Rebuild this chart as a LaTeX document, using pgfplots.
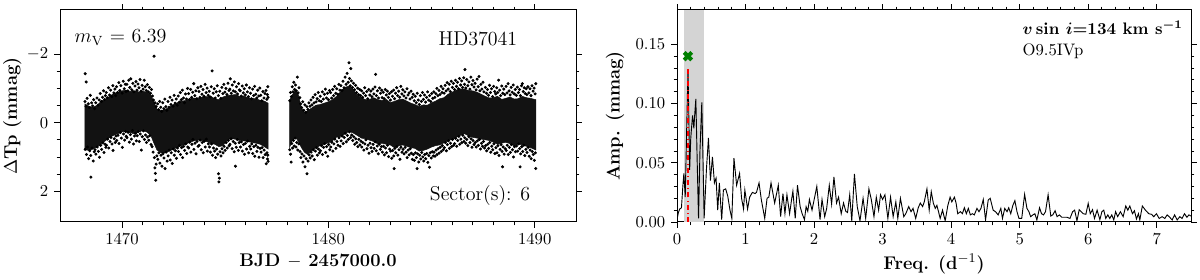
\documentclass[border=0pt]{standalone}
\usepackage{pgfplots}
\pgfplotsset{compat=1.18}
\begin{document}
\begin{tikzpicture}
\pgfplotsset{
  myax/.style={
    scale only axis, anchor=south west,
    height=127.2pt,
    tick align=outside, tick pos=both,
    major tick length=3.5pt, minor tick length=2pt,
    every tick/.style={black, line width=0.5pt},
    axis line style={line width=0.6pt},
    label style={font=\fontsize{11}{13}\selectfont},
    xlabel style={yshift=1pt},
    clip=true,
  }
}
\useasboundingbox (0,0) rectangle (720pt,168pt);
% ---------------- left panel: light curve ----------------
\begin{axis}[myax,
  at={(36pt,34.8pt)}, width=309.6pt,
  xmin=1467, xmax=1492, ymin=-3.29, ymax=2.90, y dir=reverse,
  xtick={1470,1480,1490}, minor x tick num=9,
  ytick={-2,0,2}, minor y tick num=3,
  xticklabel style={/pgf/number format/.cd,1000 sep={}},
  xlabel={\textbf{BJD $-$ 2457000.0}},
  ylabel={\textbf{$\Delta$Tp (mmag)}}, ylabel shift=-3.5pt,
]
% dense core of the light curve (segment 1)
\addplot[fill=black!93, draw=black!93, line width=0.3pt] coordinates {
(1468.20,-0.55)(1468.40,-0.48)(1468.60,-0.45)(1468.80,-0.51)(1469.00,-0.63)(1469.20,-0.68)(1469.40,-0.77)(1469.60,-0.85)
(1469.80,-0.89)(1470.00,-0.93)(1470.20,-0.95)(1470.40,-0.91)(1470.60,-0.93)(1470.80,-0.90)(1471.00,-0.92)(1471.20,-0.89)
(1471.40,-0.81)(1471.55,-0.60)(1471.70,-0.40)(1471.90,-0.35)(1472.10,-0.39)(1472.30,-0.45)(1472.50,-0.53)(1472.70,-0.59)
(1472.90,-0.63)(1473.10,-0.65)(1473.30,-0.69)(1473.50,-0.72)(1473.70,-0.70)(1473.90,-0.75)(1474.10,-0.76)(1474.30,-0.77)
(1474.50,-0.70)(1474.70,-0.67)(1474.90,-0.75)(1475.10,-0.79)(1475.30,-0.81)(1475.50,-0.82)(1475.70,-0.77)(1475.90,-0.78)
(1476.10,-0.73)(1476.30,-0.71)(1476.50,-0.70)(1476.70,-0.65)(1476.90,-0.63)(1477.08,-0.57)
(1477.08,0.77)(1476.90,0.70)(1476.70,0.63)(1476.50,0.60)(1476.30,0.58)(1476.10,0.55)(1475.90,0.53)(1475.70,0.52)
(1475.50,0.48)(1475.30,0.47)(1475.10,0.50)(1474.90,0.67)(1474.70,0.70)(1474.50,0.63)(1474.30,0.60)(1474.10,0.55)
(1473.90,0.52)(1473.70,0.51)(1473.50,0.53)(1473.30,0.57)(1473.10,0.63)(1472.90,0.67)(1472.70,0.72)(1472.50,0.77)
(1472.30,0.83)(1472.10,0.88)(1471.90,0.88)(1471.70,0.80)(1471.55,0.60)(1471.40,0.37)(1471.20,0.27)(1471.00,0.23)
(1470.80,0.28)(1470.60,0.33)(1470.40,0.29)(1470.20,0.25)(1470.00,0.27)(1469.80,0.32)(1469.60,0.37)(1469.40,0.43)
(1469.20,0.53)(1469.00,0.61)(1468.80,0.71)(1468.60,0.77)(1468.40,0.81)(1468.20,0.79)
} -- cycle;
% dense core (segment 2)
\addplot[fill=black!93, draw=black!93, line width=0.3pt] coordinates {
(1478.12,-0.65)(1478.25,-0.81)(1478.40,-0.93)(1478.55,-0.81)(1478.70,-0.43)(1478.85,-0.30)(1479.00,-0.35)(1479.20,-0.43)
(1479.40,-0.51)(1479.60,-0.53)(1479.80,-0.57)(1480.00,-0.61)(1480.20,-0.67)(1480.40,-0.77)(1480.60,-0.91)(1480.80,-1.03)
(1481.00,-1.07)(1481.20,-0.97)(1481.40,-0.80)(1481.60,-0.73)(1481.80,-0.67)(1482.00,-0.68)(1482.20,-0.73)(1482.40,-0.67)
(1482.60,-0.65)(1482.80,-0.68)(1483.00,-0.59)(1483.20,-0.62)(1483.40,-0.67)(1483.60,-0.69)(1483.80,-0.63)(1484.00,-0.57)
(1484.20,-0.53)(1484.40,-0.47)(1484.60,-0.52)(1484.80,-0.51)(1485.00,-0.58)(1485.20,-0.63)(1485.40,-0.70)(1485.60,-0.73)
(1485.80,-0.83)(1486.00,-0.89)(1486.20,-0.95)(1486.40,-0.99)(1486.60,-0.98)(1486.80,-0.94)(1487.00,-0.93)(1487.20,-0.89)
(1487.40,-0.83)(1487.60,-0.77)(1487.80,-0.72)(1488.00,-0.73)(1488.20,-0.77)(1488.40,-0.68)(1488.60,-0.71)(1488.80,-0.75)
(1489.00,-0.69)(1489.20,-0.70)(1489.40,-0.77)(1489.60,-0.73)(1489.80,-0.71)(1490.06,-0.67)
(1490.06,0.80)(1489.80,0.73)(1489.60,0.69)(1489.40,0.65)(1489.20,0.62)(1489.00,0.68)(1488.80,0.61)(1488.60,0.57)
(1488.40,0.60)(1488.20,0.63)(1488.00,0.57)(1487.80,0.52)(1487.60,0.50)(1487.40,0.48)(1487.20,0.45)(1487.00,0.43)
(1486.80,0.39)(1486.60,0.32)(1486.40,0.37)(1486.20,0.43)(1486.00,0.48)(1485.80,0.53)(1485.60,0.59)(1485.40,0.65)
(1485.20,0.67)(1485.00,0.71)(1484.80,0.77)(1484.60,0.81)(1484.40,0.83)(1484.20,0.75)(1484.00,0.73)(1483.80,0.69)
(1483.60,0.65)(1483.40,0.68)(1483.20,0.73)(1483.00,0.65)(1482.80,0.63)(1482.60,0.60)(1482.40,0.62)(1482.20,0.55)
(1482.00,0.51)(1481.80,0.47)(1481.60,0.45)(1481.40,0.37)(1481.20,0.30)(1481.00,0.25)(1480.80,0.33)(1480.60,0.40)
(1480.40,0.42)(1480.20,0.53)(1480.00,0.59)(1479.80,0.63)(1479.60,0.67)(1479.40,0.73)(1479.20,0.81)(1479.00,0.93)
(1478.85,0.87)(1478.70,0.73)(1478.55,0.55)(1478.40,0.41)(1478.25,0.53)(1478.12,0.73)
} -- cycle;
% individual measurements on the fringes of the band
\addplot[only marks, mark=*, mark size=0.7pt, black] coordinates {
(1468.22,-1.43)(1468.27,-1.19)(1468.50,1.59)
(1468.21,-0.62)(1468.26,-0.48)(1468.31,-0.71)(1468.37,-0.55)(1468.42,-0.44)(1468.47,-0.80)(1468.53,-0.58)(1468.58,-0.49)(1468.63,-0.67)(1468.68,-0.41)
(1468.22,0.78)(1468.28,0.93)(1468.33,0.71)(1468.39,1.05)(1468.44,0.82)(1468.49,0.96)(1468.55,0.74)(1468.61,1.12)(1468.66,0.85)(1468.70,0.79)
(1468.73,-0.58)(1468.79,-0.72)(1468.84,-0.51)(1468.90,-0.66)(1468.95,-0.85)(1469.01,-0.62)(1469.06,-0.74)(1469.11,-0.93)(1469.16,-0.68)(1469.20,-0.79)
(1468.74,0.92)(1468.80,0.71)(1468.86,0.84)(1468.91,1.01)(1468.97,0.66)(1469.02,0.78)(1469.08,0.59)(1469.13,0.87)(1469.18,0.63)(1469.22,0.72)
(1469.24,-0.88)(1469.29,-0.73)(1469.35,-1.02)(1469.40,-0.81)(1469.45,-0.95)(1469.51,-0.76)(1469.56,-1.08)(1469.61,-0.87)(1469.66,-0.98)(1469.70,-0.79)
(1469.25,0.66)(1469.31,0.48)(1469.36,0.74)(1469.42,0.55)(1469.47,0.43)(1469.52,0.62)(1469.57,0.81)(1469.63,0.47)(1469.68,0.58)(1469.71,0.39)
(1469.74,-1.05)(1469.79,-0.88)(1469.85,-1.17)(1469.90,-0.94)(1469.95,-1.08)(1470.01,-0.86)(1470.06,-1.21)(1470.11,-0.99)(1470.16,-1.12)(1470.20,-0.91)
(1469.75,0.52)(1469.81,0.37)(1469.86,0.61)(1469.92,0.29)(1469.97,0.45)(1470.02,0.72)(1470.08,0.33)(1470.13,0.51)(1470.18,0.26)(1470.21,0.40)
(1470.24,-1.12)(1470.29,-0.93)(1470.33,-1.24)(1470.38,-1.03)(1470.43,-1.28)(1470.48,-0.96)(1470.53,-1.15)(1470.58,-0.90)(1470.63,-1.07)(1470.68,-1.20)
(1470.25,0.44)(1470.30,0.28)(1470.36,0.57)(1470.41,0.35)(1470.46,0.48)(1470.51,0.23)(1470.56,0.62)(1470.61,0.39)(1470.66,0.31)(1470.70,0.53)
(1470.73,-0.95)(1470.78,-1.13)(1470.83,-1.02)(1470.88,-1.26)(1470.93,-0.92)(1470.98,-1.09)(1471.03,-0.98)(1471.08,-1.24)(1471.13,-1.05)(1471.18,-0.94)
(1470.74,0.38)(1470.79,0.26)(1470.84,0.55)(1470.89,0.33)(1470.94,0.80)(1470.99,0.41)(1471.04,0.24)(1471.09,0.49)(1471.14,0.36)(1471.19,0.58)
(1471.23,-1.11)(1471.28,-0.90)(1471.33,-1.03)(1471.38,-0.86)(1471.43,-0.97)(1471.48,-0.78)(1471.53,-0.66)(1471.56,-1.94)(1471.60,-0.58)(1471.66,-0.47)
(1471.24,0.42)(1471.30,0.51)(1471.35,0.38)(1471.41,0.64)(1471.46,0.70)(1471.51,0.86)(1471.57,1.02)(1471.60,1.32)(1471.62,1.48)(1471.64,1.68)(1471.66,1.21)(1471.69,0.97)
(1471.73,-0.55)(1471.78,-0.38)(1471.83,-0.62)(1471.88,-0.45)(1471.93,-0.33)(1471.98,-0.58)(1472.03,-0.41)(1472.08,-0.69)(1472.13,-0.47)(1472.18,-0.36)
(1471.74,1.07)(1471.79,0.88)(1471.84,1.18)(1471.89,0.95)(1471.94,1.27)(1471.99,0.91)(1472.04,1.03)(1472.09,1.34)(1472.14,0.86)(1472.19,1.12)
(1472.23,-0.62)(1472.28,-0.45)(1472.33,-0.74)(1472.38,-0.53)(1472.43,-0.66)(1472.48,-0.48)(1472.53,-0.80)(1472.58,-0.57)(1472.63,-0.69)(1472.68,-0.51)
(1472.24,0.97)(1472.29,0.80)(1472.34,1.09)(1472.39,0.88)(1472.44,1.19)(1472.49,0.77)(1472.54,0.95)(1472.59,0.82)(1472.64,1.04)(1472.69,0.74)
(1472.73,-0.78)(1472.78,-0.60)(1472.83,-0.88)(1472.88,-0.67)(1472.93,-0.95)(1472.98,-0.72)(1473.03,-0.58)(1473.08,-0.84)(1473.13,-0.69)(1473.18,-1.00)
(1472.74,0.84)(1472.79,0.66)(1472.84,0.93)(1472.89,0.73)(1472.94,1.02)(1472.99,0.69)(1473.04,0.81)(1473.09,0.62)(1473.14,0.90)(1473.19,0.71)
(1473.23,-0.85)(1473.28,-0.68)(1473.33,-0.97)(1473.38,-0.74)(1473.43,-0.89)(1473.48,-1.14)(1473.53,-0.79)(1473.58,-0.93)(1473.63,-0.70)(1473.68,-1.02)
(1473.24,0.74)(1473.29,0.57)(1473.34,0.86)(1473.39,0.63)(1473.44,0.49)(1473.49,0.78)(1473.54,0.60)(1473.59,0.91)(1473.64,0.55)(1473.69,0.69)
(1473.73,-0.91)(1473.78,-0.74)(1473.83,-1.06)(1473.88,-0.83)(1473.93,-0.97)(1473.98,-0.77)(1474.03,-1.12)(1474.08,-0.88)(1474.13,-1.01)(1474.18,-0.80)
(1473.74,0.66)(1473.79,0.51)(1473.84,0.79)(1473.89,0.58)(1473.94,0.88)(1473.99,0.54)(1474.04,0.71)(1474.09,0.48)(1474.14,0.83)(1474.19,0.62)
(1474.23,-0.92)(1474.28,-0.75)(1474.33,-1.05)(1474.37,-1.51)(1474.42,-0.86)(1474.47,-0.99)(1474.52,-0.72)(1474.57,-0.90)(1474.62,-1.08)(1474.67,-0.79)
(1474.24,0.71)(1474.29,0.86)(1474.34,0.62)(1474.39,0.95)(1474.44,0.74)(1474.49,0.83)(1474.54,1.02)(1474.59,0.77)(1474.64,0.92)(1474.68,1.49)(1474.70,1.73)(1474.72,1.62)
(1474.74,-0.92)(1474.79,-0.71)(1474.84,-1.03)(1474.89,-0.85)(1474.94,-1.12)(1474.99,-0.89)(1475.04,-1.00)(1475.09,-0.82)(1475.14,-1.15)(1475.19,-0.94)
(1474.75,0.85)(1474.80,0.97)(1474.85,0.76)(1474.90,0.88)(1474.95,0.69)(1475.00,0.81)(1475.05,0.58)(1475.10,0.74)(1475.15,0.52)(1475.20,0.67)
(1475.23,-0.98)(1475.25,-1.28)(1475.30,-0.86)(1475.35,-1.10)(1475.40,-0.93)(1475.45,-1.19)(1475.50,-0.90)(1475.55,-1.05)(1475.60,-0.84)(1475.65,-1.14)(1475.69,-0.96)
(1475.24,0.63)(1475.29,0.47)(1475.34,0.76)(1475.39,0.55)(1475.44,0.85)(1475.49,0.60)(1475.50,1.27)(1475.54,0.72)(1475.59,0.49)(1475.64,0.81)(1475.68,0.58)
(1475.73,-0.93)(1475.78,-0.78)(1475.83,-1.07)(1475.88,-0.87)(1475.93,-0.99)(1475.98,-0.81)(1476.03,-1.10)(1476.08,-0.90)(1476.13,-0.76)(1476.18,-1.02)
(1475.74,0.71)(1475.79,0.56)(1475.84,0.83)(1475.89,0.64)(1475.94,0.92)(1475.99,0.60)(1476.04,0.77)(1476.09,0.54)(1476.14,0.88)(1476.19,0.69)
(1476.23,-0.86)(1476.28,-0.70)(1476.33,-0.98)(1476.38,-0.79)(1476.43,-1.06)(1476.48,-0.83)(1476.53,-0.72)(1476.58,-0.95)(1476.63,-0.78)(1476.68,-1.01)
(1476.24,0.77)(1476.29,0.62)(1476.34,0.90)(1476.39,0.70)(1476.44,0.98)(1476.49,0.66)(1476.54,0.84)(1476.59,0.72)(1476.64,1.01)(1476.69,0.75)
(1476.73,-0.80)(1476.78,-0.64)(1476.83,-0.91)(1476.88,-0.72)(1476.93,-0.85)(1476.98,-0.94)(1477.02,-0.68)(1477.05,-0.82)(1477.07,-1.05)(1477.08,-0.74)
(1476.74,0.86)(1476.79,0.73)(1476.84,1.02)(1476.89,0.80)(1476.94,0.93)(1476.99,1.20)(1477.03,0.88)(1477.05,1.06)(1477.07,0.95)(1477.08,1.13)
(1478.13,-0.64)(1478.17,-0.88)(1478.21,-0.76)(1478.25,-1.05)(1478.29,-0.90)(1478.33,-1.18)(1478.37,-0.97)(1478.41,-1.10)(1478.45,-0.93)(1478.50,-1.33)(1478.54,-0.87)(1478.58,-1.02)
(1478.13,0.79)(1478.17,0.92)(1478.20,1.15)(1478.23,0.61)(1478.27,0.74)(1478.31,0.52)(1478.35,0.68)(1478.39,0.45)(1478.43,0.71)(1478.47,0.58)(1478.52,0.80)(1478.57,0.62)
(1478.62,-0.73)(1478.66,-0.55)(1478.71,-0.44)(1478.76,-0.61)(1478.81,-0.36)(1478.86,-0.52)(1478.91,-0.30)(1478.96,-0.47)(1479.01,-0.39)(1479.06,-0.58)
(1478.63,0.84)(1478.67,1.02)(1478.72,0.91)(1478.77,1.15)(1478.82,0.97)(1478.87,1.29)(1478.92,1.05)(1478.97,1.49)(1479.02,1.12)(1479.07,0.94)
(1479.11,-0.48)(1479.16,-0.66)(1479.21,-0.52)(1479.26,-0.74)(1479.31,-0.58)(1479.36,-0.82)(1479.41,-0.61)(1479.46,-0.70)(1479.51,-0.88)(1479.56,-0.64)
(1479.12,1.03)(1479.17,0.86)(1479.22,0.97)(1479.27,0.79)(1479.32,1.08)(1479.37,0.83)(1479.42,0.73)(1479.47,0.95)(1479.52,0.77)(1479.57,0.88)
(1479.61,-0.77)(1479.66,-0.62)(1479.71,-0.90)(1479.76,-0.69)(1479.81,-0.83)(1479.86,-0.98)(1479.91,-0.72)(1479.96,-0.86)(1480.01,-0.67)(1480.06,-0.94)
(1479.62,0.82)(1479.67,0.67)(1479.72,0.93)(1479.77,0.72)(1479.82,0.61)(1479.87,0.87)(1479.92,0.70)(1479.97,0.98)(1480.02,0.64)(1480.07,0.79)
(1480.11,-0.88)(1480.16,-0.72)(1480.21,-0.97)(1480.26,-0.79)(1480.31,-1.06)(1480.36,-0.86)(1480.41,-0.99)(1480.46,-0.83)(1480.51,-1.12)(1480.56,-0.95)
(1480.12,0.71)(1480.17,0.57)(1480.22,0.83)(1480.27,0.62)(1480.32,0.48)(1480.37,0.75)(1480.42,0.55)(1480.47,0.66)(1480.52,0.44)(1480.57,0.69)
(1480.61,-1.08)(1480.66,-0.94)(1480.71,-1.21)(1480.76,-1.02)(1480.81,-1.33)(1480.86,-1.12)(1480.91,-1.44)(1480.96,-1.18)(1481.00,-1.75)(1481.03,-1.29)(1481.06,-1.08)(1481.09,-1.58)
(1480.62,0.53)(1480.67,0.39)(1480.72,0.61)(1480.77,0.43)(1480.82,0.31)(1480.87,0.56)(1480.92,0.37)(1480.97,0.49)(1481.02,0.27)(1481.07,0.44)
(1481.12,-1.22)(1481.17,-1.03)(1481.22,-1.15)(1481.27,-0.96)(1481.32,-1.09)(1481.37,-0.88)(1481.42,-1.01)(1481.47,-0.82)(1481.52,-0.97)(1481.57,-0.79)
(1481.13,0.36)(1481.18,0.52)(1481.23,0.41)(1481.28,0.63)(1481.33,0.47)(1481.38,0.58)(1481.43,0.70)(1481.48,0.49)(1481.53,0.65)(1481.58,0.54)
(1481.61,-0.93)(1481.66,-0.74)(1481.71,-0.86)(1481.76,-1.02)(1481.81,-0.79)(1481.86,-0.91)(1481.91,-0.70)(1481.96,-0.97)(1482.01,-0.81)(1482.06,-0.92)
(1481.62,0.71)(1481.67,0.58)(1481.72,0.80)(1481.77,0.62)(1481.82,0.50)(1481.87,0.76)(1481.92,0.66)(1481.97,0.89)(1482.02,0.60)(1482.07,0.73)
(1482.11,-0.76)(1482.16,-0.98)(1482.21,-0.84)(1482.26,-1.04)(1482.29,-1.41)(1482.33,-0.79)(1482.38,-0.93)(1482.43,-0.72)(1482.48,-1.01)(1482.53,-0.86)(1482.58,-0.95)
(1482.12,0.84)(1482.17,0.63)(1482.22,0.75)(1482.27,0.56)(1482.32,0.82)(1482.37,0.68)(1482.42,0.91)(1482.47,0.63)(1482.52,0.78)(1482.57,0.70)
(1482.61,-0.73)(1482.66,-0.89)(1482.71,-0.70)(1482.76,-0.97)(1482.81,-0.81)(1482.86,-0.92)(1482.91,-0.74)(1482.96,-0.85)(1483.01,-0.66)(1483.06,-0.90)
(1482.62,0.86)(1482.67,0.69)(1482.72,0.94)(1482.77,0.74)(1482.82,0.88)(1482.87,0.66)(1482.92,0.99)(1482.97,0.77)(1483.02,0.83)(1483.07,1.04)
(1483.11,-0.77)(1483.16,-0.95)(1483.21,-0.70)(1483.26,-0.86)(1483.31,-1.02)(1483.36,-0.79)(1483.41,-0.92)(1483.46,-0.74)(1483.51,-1.06)(1483.56,-0.84)
(1483.12,0.81)(1483.17,0.97)(1483.19,1.34)(1483.22,0.75)(1483.27,0.88)(1483.32,0.70)(1483.37,0.95)(1483.42,0.79)(1483.47,1.07)(1483.52,0.72)(1483.57,0.86)
(1483.61,-0.96)(1483.66,-0.78)(1483.71,-0.90)(1483.76,-0.72)(1483.81,-0.99)(1483.86,-0.81)(1483.91,-0.87)(1483.96,-0.69)(1484.01,-0.92)(1484.06,-0.74)
(1483.62,0.78)(1483.67,0.91)(1483.72,0.72)(1483.77,0.86)(1483.82,1.02)(1483.87,0.80)(1483.92,0.94)(1483.97,0.76)(1484.02,0.89)(1484.07,1.07)
(1484.11,-0.83)(1484.16,-0.64)(1484.21,-0.77)(1484.26,-0.58)(1484.31,-0.86)(1484.36,-0.66)(1484.41,-0.53)(1484.46,-0.79)(1484.51,-0.62)(1484.56,-0.88)
(1484.12,0.93)(1484.17,1.10)(1484.22,0.88)(1484.27,1.02)(1484.30,1.34)(1484.33,0.91)(1484.38,1.15)(1484.43,0.95)(1484.48,1.06)(1484.53,0.87)(1484.58,1.00)
(1484.61,-0.68)(1484.66,-0.81)(1484.71,-0.60)(1484.76,-0.74)(1484.81,-0.90)(1484.86,-0.66)(1484.91,-0.79)(1484.96,-0.62)(1485.01,-0.85)(1485.06,-0.71)
(1484.62,1.12)(1484.67,0.93)(1484.72,1.05)(1484.77,0.90)(1484.82,1.16)(1484.87,0.96)(1484.90,1.30)(1484.94,0.88)(1484.99,1.03)(1485.04,0.85)(1485.09,0.97)
(1485.11,-0.90)(1485.16,-0.74)(1485.21,-0.85)(1485.26,-1.00)(1485.31,-0.79)(1485.36,-0.94)(1485.41,-0.82)(1485.46,-1.06)(1485.51,-0.88)(1485.56,-0.99)
(1485.12,0.86)(1485.17,0.98)(1485.22,0.80)(1485.27,0.93)(1485.32,0.76)(1485.37,0.89)(1485.42,0.72)(1485.47,0.84)(1485.52,0.67)(1485.57,0.79)
(1485.61,-0.86)(1485.66,-1.09)(1485.71,-0.93)(1485.76,-1.17)(1485.81,-0.98)(1485.86,-1.12)(1485.91,-0.91)(1485.96,-1.21)(1486.01,-1.03)(1486.06,-1.15)
(1485.62,0.73)(1485.67,0.58)(1485.72,0.82)(1485.77,0.64)(1485.82,0.53)(1485.87,0.75)(1485.92,0.60)(1485.97,0.70)(1486.02,0.49)(1486.07,0.66)
(1486.11,-0.97)(1486.16,-1.24)(1486.21,-1.06)(1486.26,-1.18)(1486.31,-0.99)(1486.36,-1.29)(1486.41,-1.10)(1486.46,-1.22)(1486.51,-1.03)(1486.56,-1.31)
(1486.12,0.61)(1486.17,0.46)(1486.22,0.69)(1486.27,0.52)(1486.32,0.40)(1486.37,0.63)(1486.42,0.48)(1486.47,0.58)(1486.52,0.37)(1486.57,0.55)
(1486.60,-1.12)(1486.62,-1.55)(1486.66,-1.01)(1486.71,-1.26)(1486.76,-1.08)(1486.81,-1.19)(1486.86,-0.98)(1486.91,-1.33)(1486.96,-1.11)(1487.01,-1.23)(1487.06,-1.04)
(1486.61,0.44)(1486.66,0.60)(1486.71,0.49)(1486.76,0.67)(1486.81,0.41)(1486.86,0.58)(1486.91,0.47)(1486.96,0.72)(1487.01,0.52)(1487.06,0.64)
(1487.11,-1.15)(1487.16,-0.96)(1487.21,-1.27)(1487.26,-1.05)(1487.30,-1.35)(1487.34,-0.93)(1487.39,-1.12)(1487.44,-0.98)(1487.49,-1.18)(1487.54,-0.90)
(1487.12,0.58)(1487.17,0.71)(1487.22,0.53)(1487.27,0.66)(1487.32,0.49)(1487.37,0.77)(1487.42,0.60)(1487.47,0.69)(1487.52,0.55)(1487.57,0.74)
(1487.61,-1.03)(1487.66,-0.86)(1487.71,-0.97)(1487.76,-0.80)(1487.81,-1.09)(1487.86,-0.88)(1487.91,-0.99)(1487.96,-0.76)(1488.01,-1.06)(1488.06,-0.91)
(1487.62,0.67)(1487.67,0.82)(1487.72,0.63)(1487.77,0.75)(1487.82,0.58)(1487.87,0.86)(1487.92,0.69)(1487.97,0.79)(1488.02,0.62)(1488.07,0.90)
(1488.11,-0.84)(1488.16,-1.02)(1488.21,-0.88)(1488.25,-1.24)(1488.30,-0.95)(1488.35,-0.79)(1488.40,-1.07)(1488.45,-0.86)(1488.50,-0.98)(1488.55,-0.82)
(1488.12,0.73)(1488.17,0.88)(1488.22,0.67)(1488.27,0.96)(1488.32,0.78)(1488.37,0.64)(1488.42,0.84)(1488.44,1.29)(1488.47,0.71)(1488.52,0.92)(1488.57,0.76)
(1488.61,-1.06)(1488.66,-0.87)(1488.71,-1.14)(1488.76,-0.93)(1488.81,-0.81)(1488.86,-1.03)(1488.91,-0.89)(1488.96,-1.10)(1489.01,-0.84)(1489.06,-0.97)
(1488.62,0.81)(1488.67,0.66)(1488.72,0.93)(1488.77,0.72)(1488.82,0.87)(1488.87,0.64)(1488.92,0.79)(1488.97,1.00)(1489.02,0.70)(1489.07,0.85)
(1489.11,-0.80)(1489.16,-1.04)(1489.21,-0.88)(1489.26,-0.97)(1489.31,-0.79)(1489.36,-1.08)(1489.40,-1.14)(1489.44,-0.91)(1489.49,-1.02)(1489.54,-0.85)(1489.59,-0.99)
(1489.12,0.68)(1489.17,0.83)(1489.22,0.62)(1489.27,0.76)(1489.29,1.29)(1489.32,0.91)(1489.37,0.70)(1489.42,0.84)(1489.47,0.66)(1489.52,0.96)(1489.57,0.78)
(1489.62,-0.82)(1489.67,-1.05)(1489.72,-0.87)(1489.77,-0.99)(1489.82,-0.79)(1489.87,-1.08)(1489.92,-0.92)(1489.97,-1.01)(1490.02,-0.84)(1490.05,-1.14)
(1489.63,0.87)(1489.68,0.72)(1489.73,0.98)(1489.78,0.80)(1489.83,1.05)(1489.88,0.84)(1489.93,0.93)(1489.98,1.10)(1490.03,0.88)(1490.05,1.34)
};
\node[anchor=west, font=\large] at (rel axis cs:0.017,0.873) {$m_{\rm V}$ = 6.39};
\node[font=\large] at (rel axis cs:0.81,0.865) {HD37041};
\node[font=\large] at (rel axis cs:0.814,0.127) {Sector(s): 6};
\end{axis}
% ---------------- right panel: periodogram ----------------
\begin{axis}[myax,
  at={(406.2pt,34.8pt)}, width=308.4pt,
  xmin=0, xmax=7.5, ymin=0, ymax=0.179,
  xtick={0,1,2,3,4,5,6,7}, minor x tick num=4,
  ytick={0,0.05,0.10,0.15}, minor y tick num=4,
  scaled y ticks=false,
  yticklabel style={/pgf/number format/.cd,fixed,fixed zerofill,precision=2},
  xlabel={\textbf{Freq. (d$^{-1}$)}},
  ylabel={\textbf{Amp. (mmag)}},
]
\addplot[draw=none, fill=black!17] coordinates {(0.1,0) (0.4,0) (0.4,0.179) (0.1,0.179)} -- cycle;
\addplot[black, line width=0.55pt] coordinates {
(0.00,0.002)(0.02,0.008)(0.04,0.011)(0.065,0.012)(0.085,0.030)(0.10,0.041)(0.12,0.021)(0.14,0.075)(0.16,0.129)
(0.175,0.080)(0.185,0.044)(0.20,0.070)(0.21,0.078)(0.227,0.090)(0.246,0.079)(0.26,0.092)(0.275,0.104)(0.295,0.050)
(0.314,0.003)(0.335,0.060)(0.362,0.101)(0.38,0.050)(0.396,0.003)(0.43,0.045)(0.459,0.071)(0.488,0.035)(0.517,0.055)
(0.546,0.033)(0.57,0.037)(0.594,0.010)(0.618,0.033)(0.652,0.002)(0.677,0.027)(0.71,0.028)(0.74,0.022)(0.773,0.010)
(0.80,0.003)(0.831,0.054)(0.87,0.031)(0.913,0.041)(0.942,0.020)(0.971,0.011)(0.99,0.027)(1.03,0.011)(1.06,0.021)
(1.10,0.025)(1.14,0.024)(1.16,0.025)(1.197,0.033)(1.23,0.019)(1.28,0.003)(1.314,0.020)(1.34,0.021)(1.372,0.033)
(1.425,0.016)(1.478,0.031)(1.512,0.0045)(1.546,0.024)(1.575,0.007)(1.604,0.023)(1.643,0.007)(1.672,0.019)(1.691,0.026)
(1.725,0.003)(1.758,0.031)(1.797,0.013)(1.826,0.007)(1.86,0.002)(1.884,0.013)(1.908,0.009)(1.932,0.019)(1.97,0.010)
(2.04,0.030)(2.087,0.002)(2.116,0.019)(2.155,0.0045)(2.184,0.0115)(2.222,0.031)(2.256,0.015)(2.29,0.038)(2.328,0.016)
(2.357,0.021)(2.396,0.007)(2.43,0.016)(2.463,0.009)(2.488,0.008)(2.52,0.023)(2.55,0.001)(2.589,0.0405)(2.63,0.013)
(2.67,0.001)(2.715,0.020)(2.753,0.003)(2.80,0.028)(2.835,0.019)(2.874,0.0045)(2.908,0.021)(2.942,0.010)(2.97,0.023)
(3.00,0.019)(3.034,0.023)(3.077,0.003)(3.116,0.021)(3.154,0.0045)(3.193,0.017)(3.222,0.003)(3.26,0.020)(3.309,0.0045)
(3.338,0.007)(3.381,0.013)(3.415,0.0087)(3.444,0.0115)(3.483,0.003)(3.52,0.012)(3.55,0.016)(3.584,0.013)(3.608,0.017)
(3.647,0.028)(3.68,0.010)(3.71,0.0256)(3.74,0.016)(3.768,0.0115)(3.792,0.014)(3.816,0.0087)(3.84,0.003)(3.874,0.010)
(3.913,0.001)(3.952,0.014)(3.985,0.021)(4.01,0.017)(4.048,0.021)(4.072,0.016)(4.096,0.007)(4.135,0.0087)(4.164,0.007)
(4.193,0.012)(4.222,0.007)(4.251,0.0115)(4.28,0.006)(4.309,0.007)(4.338,0.006)(4.377,0.0115)(4.406,0.0087)(4.435,0.0115)
(4.469,0.019)(4.502,0.0017)(4.541,0.0186)(4.57,0.020)(4.613,0.010)(4.647,0.0087)(4.686,0.006)(4.725,0.0115)(4.749,0.003)
(4.782,0.0115)(4.816,0.0087)(4.84,0.012)(4.87,0.007)(4.90,0.014)(4.93,0.018)(4.961,0.0087)(4.99,0.003)(5.03,0.003)
(5.072,0.0233)(5.106,0.0115)(5.135,0.0087)(5.16,0.0045)(5.193,0.006)(5.222,0.007)(5.251,0.0017)(5.29,0.012)(5.319,0.007)
(5.348,0.006)(5.377,0.0087)(5.415,0.023)(5.454,0.005)(5.483,0.006)(5.517,0.0095)(5.546,0.0045)(5.58,0.006)(5.613,0.004)
(5.652,0.004)(5.69,0.004)(5.734,0.003)(5.773,0.0087)(5.802,0.010)(5.836,0.001)(5.869,0.0104)(5.898,0.0087)(5.927,0.007)
(5.966,0.0065)(6.00,0.0157)(6.03,0.007)(6.063,0.0104)(6.092,0.003)(6.13,0.010)(6.17,0.002)(6.20,0.0087)(6.227,0.010)
(6.256,0.003)(6.286,0.006)(6.315,0.003)(6.344,0.006)(6.373,0.0017)(6.40,0.0087)(6.43,0.0045)(6.47,0.0087)(6.51,0.0045)
(6.548,0.0135)(6.578,0.010)(6.607,0.0135)(6.646,0.007)(6.675,0.0095)(6.704,0.0025)(6.733,0.007)(6.753,0.0017)(6.79,0.0135)
(6.835,0.010)(6.884,0.007)(6.923,0.0065)(6.957,0.0045)(6.996,0.007)(7.035,0.003)(7.079,0.0045)(7.118,0.003)(7.152,0.006)
(7.19,0.004)(7.225,0.0017)(7.26,0.006)(7.298,0.0017)(7.337,0.0045)(7.37,0.003)(7.405,0.007)(7.44,0.004)(7.47,0.006)(7.50,0.005)
};
\addplot[red, dash dot, line width=0.9pt] coordinates {(0.16,0) (0.16,0.129)};
\addplot[only marks, mark=x, mark size=3.2pt, line width=2.4pt, color=green!50!black] coordinates {(0.16,0.140)};
\node[anchor=west] at (rel axis cs:0.661,0.915) {\textbf{\boldmath$v\sin\,i$=134 km s$^{-1}$}};
\node[anchor=west] at (rel axis cs:0.661,0.805) {O9.5IVp};
\end{axis}
\end{tikzpicture}
\end{document}
